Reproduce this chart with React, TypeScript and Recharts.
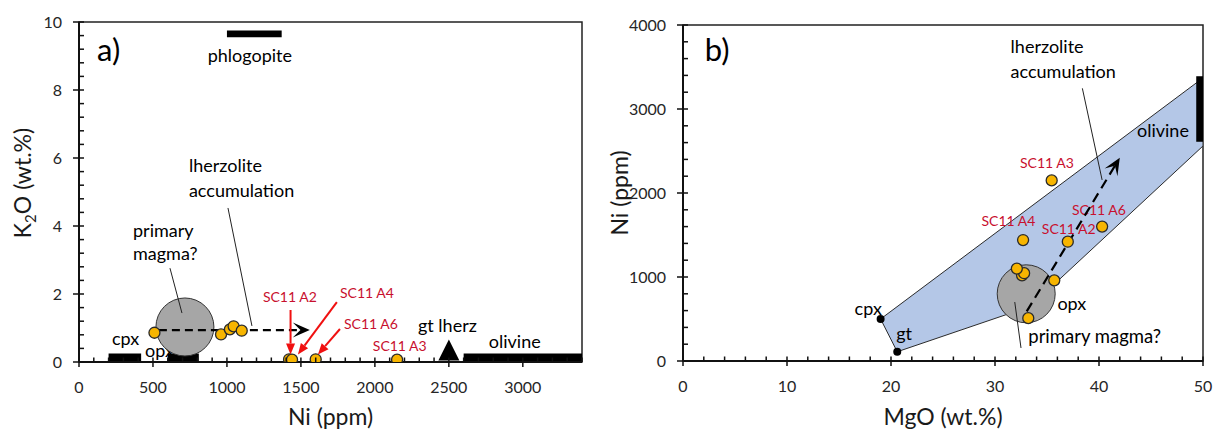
import React from 'react';
import { ScatterChart, Scatter, XAxis, YAxis, ReferenceArea, Label } from 'recharts';

const FONT = 'Lato, "Open Sans", sans-serif';

// ---------- samples (both panels) ----------
const sampleNames = ['', '', '', '', '', 'SC11 A2', 'SC11 A4', 'SC11 A6', 'SC11 A3'];
const sampleNi = [510, 960, 1020, 1045, 1100, 1420, 1440, 1600, 2150];
const sampleK2O = [0.86, 0.81, 0.96, 1.05, 0.92, 0.08, 0.07, 0.08, 0.07];
const sampleMgO = [33.2, 35.7, 32.6, 32.8, 32.1, 37.0, 32.7, 40.3, 35.45];

// ---------- panel a ----------
const niDomainA = [0, 3400];
const niMajorA = [0, 500, 1000, 1500, 2000, 2500, 3000];
const k2oDomain = [0, 10];
const k2oMajor = [0, 2, 4, 6, 8, 10];

const mineralBarsA = [
  { name: 'cpx', ni1: 200, ni2: 420, k1: 0, k2: 0.25 },
  { name: 'opx', ni1: 600, ni2: 810, k1: 0, k2: 0.25 },
  { name: 'olivine', ni1: 2600, ni2: 3400, k1: 0, k2: 0.25 },
  { name: 'phlogopite', ni1: 1000, ni2: 1370, k1: 9.55, k2: 9.75 },
];
const gtLherzA = [{ x: 2500, y: 0.35 }];
const primaryMagmaA = [{ x: 716, y: 1.03 }];
const accumArrowA = [{ x: 540, y: 0.94 }, { x: 1560, y: 0.94 }];

const notesA = [
  { text: 'a)', x: 122, y: 8.85, size: 31, color: '#000', anchor: 'start' },
  { text: 'phlogopite', x: 1155, y: 8.83, size: 18, color: '#000', anchor: 'middle' },
  { text: 'lherzolite', x: 743, y: 5.6, size: 18, color: '#000', anchor: 'start' },
  { text: 'accumulation', x: 743, y: 4.86, size: 18, color: '#000', anchor: 'start' },
  { text: 'primary', x: 365, y: 3.69, size: 18, color: '#000', anchor: 'start' },
  { text: 'magma?', x: 365, y: 3.0, size: 18, color: '#000', anchor: 'start' },
  { text: 'cpx', x: 223, y: 0.5, size: 18, color: '#000', anchor: 'start' },
  { text: 'opx', x: 446, y: 0.16, size: 18, color: '#000', anchor: 'start' },
  { text: 'SC11 A2', x: 1243, y: 1.76, size: 14, color: '#C8102E', anchor: 'start' },
  { text: 'SC11 A4', x: 1764, y: 1.87, size: 14, color: '#C8102E', anchor: 'start' },
  { text: 'SC11 A6', x: 1791, y: 0.96, size: 14, color: '#C8102E', anchor: 'start' },
  { text: 'SC11 A3', x: 1986, y: 0.32, size: 14, color: '#C8102E', anchor: 'start' },
  { text: 'gt lherz', x: 2291, y: 0.89, size: 18, color: '#000', anchor: 'start' },
  { text: 'olivine', x: 2770, y: 0.42, size: 18, color: '#000', anchor: 'start' },
];
const leadersA = [
  [{ x: 1007, y: 4.53 }, { x: 1169, y: 1.06 }],
  [{ x: 615, y: 2.76 }, { x: 696, y: 1.44 }],
];
const redArrowsA = [
  [{ x: 1430, y: 1.53 }, { x: 1430, y: 0.22 }],
  [{ x: 1743, y: 1.76 }, { x: 1480, y: 0.22 }],
  [{ x: 1764, y: 0.97 }, { x: 1615, y: 0.22 }],
];

// ---------- panel b ----------
const mgoDomain = [0, 50];
const mgoMajor = [0, 10, 20, 30, 40, 50];
const niDomainB = [0, 4000];
const niMajorB = [0, 1000, 2000, 3000, 4000];

const fieldPolygonB = [
  { x: 19.0, y: 500 },
  { x: 50.0, y: 3370 },
  { x: 50.0, y: 2560 },
  { x: 33.4, y: 650 },
  { x: 20.6, y: 110 },
];
const mineralDotsB = [
  { x: 19.0, y: 500 },
  { x: 20.6, y: 110 },
];
const olivineBarB = [
  { x: 49.35, y: 2610 },
  { x: 50.0, y: 3390 },
];
const primaryMagmaB = [{ x: 33.0, y: 800 }];
const accumArrowB = [{ x: 33.05, y: 590 }, { x: 42.0, y: 2420 }];

const notesB = [
  { text: 'b)', x: 2.1, y: 3571, size: 31, color: '#000', anchor: 'start' },
  { text: 'lherzolite', x: 31.5, y: 3667, size: 18, color: '#000', anchor: 'start' },
  { text: 'accumulation', x: 31.5, y: 3365, size: 18, color: '#000', anchor: 'start' },
  { text: 'olivine', x: 43.65, y: 2663, size: 18, color: '#000', anchor: 'start' },
  { text: 'SC11 A3', x: 32.4, y: 2294, size: 14, color: '#C8102E', anchor: 'start' },
  { text: 'SC11 A6', x: 37.4, y: 1738, size: 14, color: '#C8102E', anchor: 'start' },
  { text: 'SC11 A4', x: 28.7, y: 1607, size: 14, color: '#C8102E', anchor: 'start' },
  { text: 'SC11 A2', x: 34.5, y: 1508, size: 14, color: '#C8102E', anchor: 'start' },
  { text: 'cpx', x: 16.5, y: 548, size: 18, color: '#000', anchor: 'start' },
  { text: 'gt', x: 20.5, y: 250, size: 18, color: '#000', anchor: 'start' },
  { text: 'opx', x: 36.0, y: 607, size: 18, color: '#000', anchor: 'start' },
  { text: 'primary magma?', x: 33.2, y: 210, size: 18.5, color: '#000', anchor: 'start' },
];
const leadersB = [
  [{ x: 38.4, y: 3246 }, { x: 40.3, y: 2155 }],
  [{ x: 31.9, y: 702 }, { x: 32.5, y: 155 }],
];

// ---------- helpers ----------
const range = (a: number, b: number, s: number) => {
  const out: number[] = [];
  for (let i = 0; a + i * s <= b + 1e-9; i++) out.push(Math.round((a + i * s) * 1000) / 1000);
  return out;
};

const YELLOW = '#F7B500';
const RED = '#F01010';

const xTick = (majors: number[]) => (props: any) => {
  const { x, y, payload } = props;
  const v = payload.value;
  const major = majors.includes(v);
  return (
    <g>
      <line x1={x} x2={x} y1={y - 4.5} y2={major ? y + 5 : y} stroke="#111" strokeWidth={1.5} />
      {major && (
        <text x={x} y={y + 31} textAnchor="middle" fontSize={16} fontFamily={FONT} fill="#262626">
          {v}
        </text>
      )}
    </g>
  );
};

const yTick = (majors: number[]) => (props: any) => {
  const { x, y, payload } = props;
  const v = payload.value;
  const major = majors.includes(v);
  return (
    <g>
      <line x1={major ? x - 6 : x} x2={x + 5} y1={y} y2={y} stroke="#111" strokeWidth={1.5} />
      {major && (
        <text x={x - 17} y={y} dy="0.35em" textAnchor="end" fontSize={16} fontFamily={FONT} fill="#262626">
          {v}
        </text>
      )}
    </g>
  );
};

const ends = (p: any) => {
  const ps: any[] = p.points || [];
  if (ps.length < 2) return null;
  const v = [ps[0].x, ps[0].y, ps[ps.length - 1].x, ps[ps.length - 1].y];
  if (v.some((n) => typeof n !== 'number' || isNaN(n))) return null;
  return { x1: v[0], y1: v[1], x2: v[2], y2: v[3] };
};

// dashed arrow with notched chevron head
const chevronArrow = (dash: string) => (p: any) => {
  const e = ends(p);
  if (!e) return <g />;
  const { x1, y1, x2, y2 } = e;
  const a = Math.atan2(y2 - y1, x2 - x1);
  const c = Math.cos(a);
  const s = Math.sin(a);
  const L = 17;
  const W = 7.5;
  const nx = x2 - 0.55 * L * c;
  const ny = y2 - 0.55 * L * s;
  const bx = x2 - L * c;
  const by = y2 - L * s;
  const head = `${x2},${y2} ${bx - W * s},${by + W * c} ${nx},${ny} ${bx + W * s},${by - W * c}`;
  return (
    <g>
      <line x1={x1} y1={y1} x2={nx} y2={ny} stroke="#000" strokeWidth={2.2} strokeDasharray={dash} />
      <polygon points={head} fill="#000" />
    </g>
  );
};

// solid red arrow
const redArrow = (p: any) => {
  const e = ends(p);
  if (!e) return <g />;
  const { x1, y1, x2, y2 } = e;
  const a = Math.atan2(y2 - y1, x2 - x1);
  const c = Math.cos(a);
  const s = Math.sin(a);
  const L = 11;
  const W = 4.5;
  const bx = x2 - L * c;
  const by = y2 - L * s;
  const head = `${x2},${y2} ${bx - W * s},${by + W * c} ${bx + W * s},${by - W * c}`;
  return (
    <g>
      <line x1={x1} y1={y1} x2={bx} y2={by} stroke={RED} strokeWidth={2} />
      <polygon points={head} fill={RED} />
    </g>
  );
};

const leaderLine = (p: any) => {
  const e = ends(p);
  if (!e) return <g />;
  return <line x1={e.x1} y1={e.y1} x2={e.x2} y2={e.y2} stroke="#222" strokeWidth={1} />;
};

const boxLine = (p: any) => {
  const e = ends(p);
  if (!e) return <g />;
  return (
    <rect
      x={Math.min(e.x1, e.x2)}
      y={Math.min(e.y1, e.y2)}
      width={Math.abs(e.x2 - e.x1)}
      height={Math.abs(e.y2 - e.y1)}
      fill="#000"
    />
  );
};

const textShape = (p: any) => {
  const n = p.payload || {};
  return (
    <text x={p.cx} y={p.cy} textAnchor={n.anchor} fontSize={n.size} fontFamily={FONT} fill={n.color}>
      {n.text}
    </text>
  );
};

const yellowDot = (p: any) => (
  <circle cx={p.cx} cy={p.cy} r={5.5} fill={YELLOW} stroke="#2a2a2a" strokeWidth={1.3} />
);
const blackDot = (p: any) => <circle cx={p.cx} cy={p.cy} r={4} fill="#000" />;
const greyCircle = (p: any) => <circle cx={p.cx} cy={p.cy} r={29} fill="#A6A6A6" stroke="#333" strokeWidth={1} />;
const noDot = () => <g />;
const triangleShape = (p: any) => {
  const h = 21;
  const w = 21;
  return (
    <polygon
      points={`${p.cx},${p.cy - h / 2} ${p.cx - w / 2},${p.cy + h / 2} ${p.cx + w / 2},${p.cy + h / 2}`}
      fill="#000"
    />
  );
};
const polygonLine = (p: any) => {
  const points: any[] = p.points || [];
  if (!points.length) return <g />;
  const d = points.map((q, i) => `${i ? 'L' : 'M'}${q.x},${q.y}`).join(' ') + ' Z';
  return <path d={d} fill="#B4C7E7" stroke="#2a2a2a" strokeWidth={1} />;
};

const dataA = sampleNi.map((ni, i) => ({ x: ni, y: sampleK2O[i], name: sampleNames[i] }));
const dataB = sampleNi.map((ni, i) => ({ x: sampleMgO[i], y: ni, name: sampleNames[i] }));

const xTitle = (text: string, dy: number) => (props: any) => {
  const vb = props.viewBox || {};
  return (
    <text x={vb.x + vb.width / 2} y={vb.y + dy} textAnchor="middle" fontSize={23} fontFamily={FONT} fill="#1a1a1a">
      {text}
    </text>
  );
};

const yTitleA = (props: any) => {
  const vb = props.viewBox || {};
  const cx = vb.x + 4;
  const cy = vb.y + vb.height / 2 - 9;
  return (
    <text
      x={cx}
      y={cy}
      transform={`rotate(-90 ${cx} ${cy})`}
      textAnchor="middle"
      dy="0.35em"
      fontSize={23}
      fontFamily={FONT}
      fill="#1a1a1a"
    >
      K<tspan fontSize={15} dy="5">2</tspan>
      <tspan dy="-5">O (wt.%)</tspan>
    </text>
  );
};

const yTitleB = (props: any) => {
  const vb = props.viewBox || {};
  const cx = vb.x - 3;
  const cy = vb.y + vb.height / 2;
  return (
    <text
      x={cx}
      y={cy}
      transform={`rotate(-90 ${cx} ${cy})`}
      textAnchor="middle"
      dy="0.35em"
      fontSize={23}
      fontFamily={FONT}
      fill="#1a1a1a"
    >
      Ni (ppm)
    </text>
  );
};

const seg = (key: string, data: any[], fn: any) => (
  <Scatter key={key} data={data} shape={noDot} line={fn} isAnimationActive={false} />
);

function PanelA() {
  return (
    <ScatterChart width={600} height={430} margin={{ top: 22, right: 18, bottom: 28, left: 19 }}>
      <XAxis
        type="number"
        dataKey="x"
        domain={niDomainA}
        allowDataOverflow
        ticks={range(0, 3400, 100)}
        interval={0}
        tickSize={0}
        tickMargin={0}
        tickLine={false}
        tick={xTick(niMajorA)}
        axisLine={{ stroke: '#111', strokeWidth: 2 }}
        height={40}
      >
        <Label content={xTitle('Ni (ppm)', 63)} />
      </XAxis>
      <YAxis
        type="number"
        dataKey="y"
        domain={k2oDomain}
        allowDataOverflow
        ticks={range(0, 10, 0.4)}
        interval={0}
        tickSize={0}
        tickMargin={0}
        tickLine={false}
        tick={yTick(k2oMajor)}
        axisLine={{ stroke: '#111', strokeWidth: 2 }}
        width={60}
      >
        <Label content={yTitleA} />
      </YAxis>
      <ReferenceArea x1={0} x2={3400} y1={0} y2={10} fill="none" stroke="#222" strokeWidth={1.5} />
      {mineralBarsA.map((b, i) => (
        <ReferenceArea key={`bar-${i}`} x1={b.ni1} x2={b.ni2} y1={b.k1} y2={b.k2} fill="#000" fillOpacity={1} stroke="none" />
      ))}
      <Scatter data={notesA} shape={textShape} isAnimationActive={false} />
      <Scatter data={primaryMagmaA} shape={greyCircle} isAnimationActive={false} />
      {leadersA.map((s, i) => seg(`lead-${i}`, s, leaderLine))}
      {seg('accum', accumArrowA, chevronArrow('8 5'))}
      <Scatter data={gtLherzA} shape={triangleShape} isAnimationActive={false} />
      <Scatter data={dataA} shape={yellowDot} isAnimationActive={false} />
      {redArrowsA.map((s, i) => seg(`red-${i}`, s, redArrow))}
    </ScatterChart>
  );
}

function PanelB() {
  return (
    <ScatterChart width={615} height={430} margin={{ top: 25, right: 12, bottom: 29, left: 23 }}>
      <XAxis
        type="number"
        dataKey="x"
        domain={mgoDomain}
        allowDataOverflow
        ticks={range(0, 50, 2)}
        interval={0}
        tickSize={0}
        tickMargin={0}
        tickLine={false}
        tick={xTick(mgoMajor)}
        axisLine={{ stroke: '#111', strokeWidth: 2 }}
        height={40}
      >
        <Label content={xTitle('MgO (wt.%)', 64)} />
      </XAxis>
      <YAxis
        type="number"
        dataKey="y"
        domain={niDomainB}
        allowDataOverflow
        ticks={range(0, 4000, 200)}
        interval={0}
        tickSize={0}
        tickMargin={0}
        tickLine={false}
        tick={yTick(niMajorB)}
        axisLine={{ stroke: '#111', strokeWidth: 2 }}
        width={60}
      >
        <Label content={yTitleB} />
      </YAxis>
      <ReferenceArea x1={0} x2={50} y1={0} y2={4000} fill="none" stroke="#222" strokeWidth={1.5} />
      {seg('poly', fieldPolygonB, polygonLine)}
      {seg('olbar', olivineBarB, boxLine)}
      <Scatter data={primaryMagmaB} shape={greyCircle} isAnimationActive={false} />
      <Scatter data={notesB} shape={textShape} isAnimationActive={false} />
      {leadersB.map((s, i) => seg(`leadb-${i}`, s, leaderLine))}
      {seg('accumb', accumArrowB, chevronArrow('10 6'))}
      <Scatter data={mineralDotsB} shape={blackDot} isAnimationActive={false} />
      <Scatter data={dataB} shape={yellowDot} isAnimationActive={false} />
    </ScatterChart>
  );
}

export default function App() {
  return (
    <div style={{ position: 'absolute', left: 0, top: 0, width: 1215, height: 430, background: '#fff' }}>
      <div style={{ position: 'absolute', left: 0, top: 0 }}>
        <PanelA />
      </div>
      <div style={{ position: 'absolute', left: 600, top: 0 }}>
        <PanelB />
      </div>
    </div>
  );
}
